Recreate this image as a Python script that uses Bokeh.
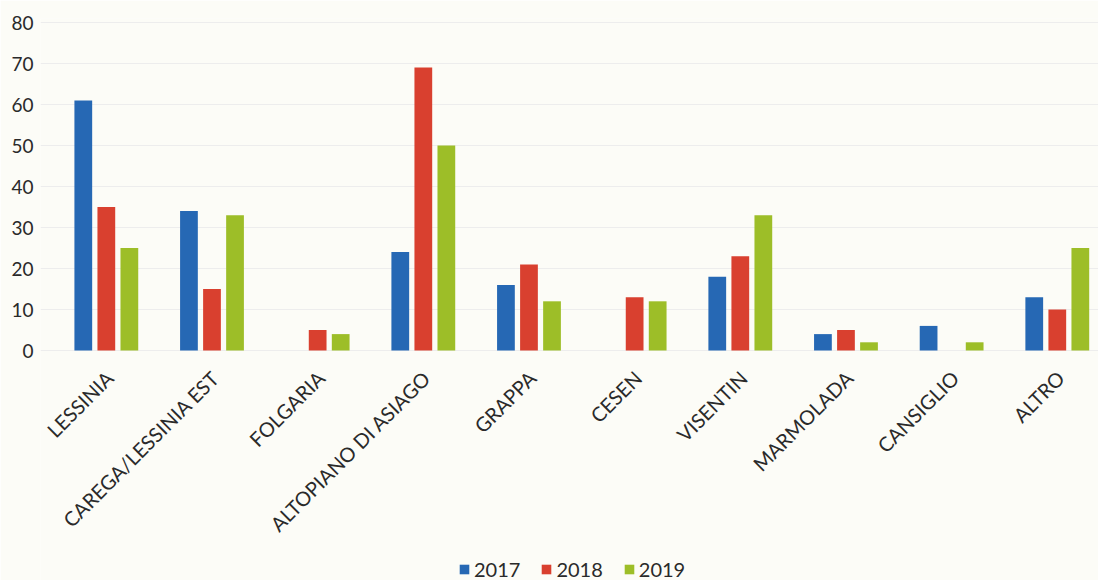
import math
from bokeh.plotting import figure
from bokeh.models import Range1d, Legend, LegendItem, FixedTicker, ColumnDataSource
from bokeh.core.properties import value
from bokeh.embed import file_html
from bokeh.resources import INLINE

categories = ["LESSINIA", "CAREGA/LESSINIA EST", "FOLGARIA", "ALTOPIANO DI ASIAGO",
              "GRAPPA", "CESEN", "VISENTIN", "MARMOLADA", "CANSIGLIO", "ALTRO"]
years = ["2017", "2018", "2019"]
v2017 = [61, 34, 0, 24, 16, 0, 18, 4, 6, 13]
v2018 = [35, 15, 5, 69, 21, 13, 23, 5, 0, 10]
v2019 = [25, 33, 4, 50, 12, 12, 33, 2, 2, 25]
y_ticks = [0, 10, 20, 30, 40, 50, 60, 70, 80]
colors = ["#2668b4", "#d9402f", "#9dbe28"]

BG = "#fcfcf7"
FONT = "Lato"
TXT = "#2a2a2a"

p = figure(width=1098, height=580, output_backend="svg", toolbar_location=None,
           x_range=Range1d(-0.623, 9.39), y_range=Range1d(-56.1, 80.98),
           min_border_left=40, min_border_right=0, min_border_top=18,
           min_border_bottom=0,
           background_fill_color=BG, border_fill_color=BG)
p.outline_line_color = None
p.xaxis.visible = False

xs = list(range(len(categories)))
offsets = [-0.218, 0.0, 0.218]
renderers = []
for vals, off, col in zip([v2017, v2018, v2019], offsets, colors):
    r = p.vbar(x=[x + off for x in xs], top=vals, width=0.168, fill_color=col,
               line_color=None)
    renderers.append(r)

# category labels, rotated 45 degrees, ending at the category position
lab = ColumnDataSource(dict(x=[x + 0.03 for x in xs], y=[-5.8] * len(xs), text=categories))
p.text(x="x", y="y", text="text", source=lab, angle=math.pi / 4,
       text_align="right", text_baseline="middle", text_font=value(FONT),
       text_font_size="20px", text_color=TXT)

p.yaxis.ticker = FixedTicker(ticks=y_ticks)
p.yaxis.axis_line_color = None
p.yaxis.major_tick_line_color = None
p.yaxis.major_tick_out = 0
p.yaxis.minor_tick_line_color = None
p.yaxis.major_label_text_font = FONT
p.yaxis.major_label_text_font_size = "19px"
p.yaxis.major_label_text_color = TXT
p.yaxis.major_label_standoff = 7

p.xgrid.grid_line_color = None
p.ygrid.grid_line_color = "#ededed"
p.ygrid.grid_line_width = 1

legend = Legend(items=[LegendItem(label=y, renderers=[r]) for y, r in zip(years, renderers)],
                orientation="horizontal", location=(418, -1),
                label_text_font=FONT, label_text_font_size="20px",
                label_text_color=TXT, glyph_width=12, glyph_height=12,
                spacing=20, label_standoff=4, padding=2, margin=0,
                background_fill_alpha=0, border_line_color=None)
p.add_layout(legend, "center")

open("out.html", "w").write(file_html(p, INLINE))
